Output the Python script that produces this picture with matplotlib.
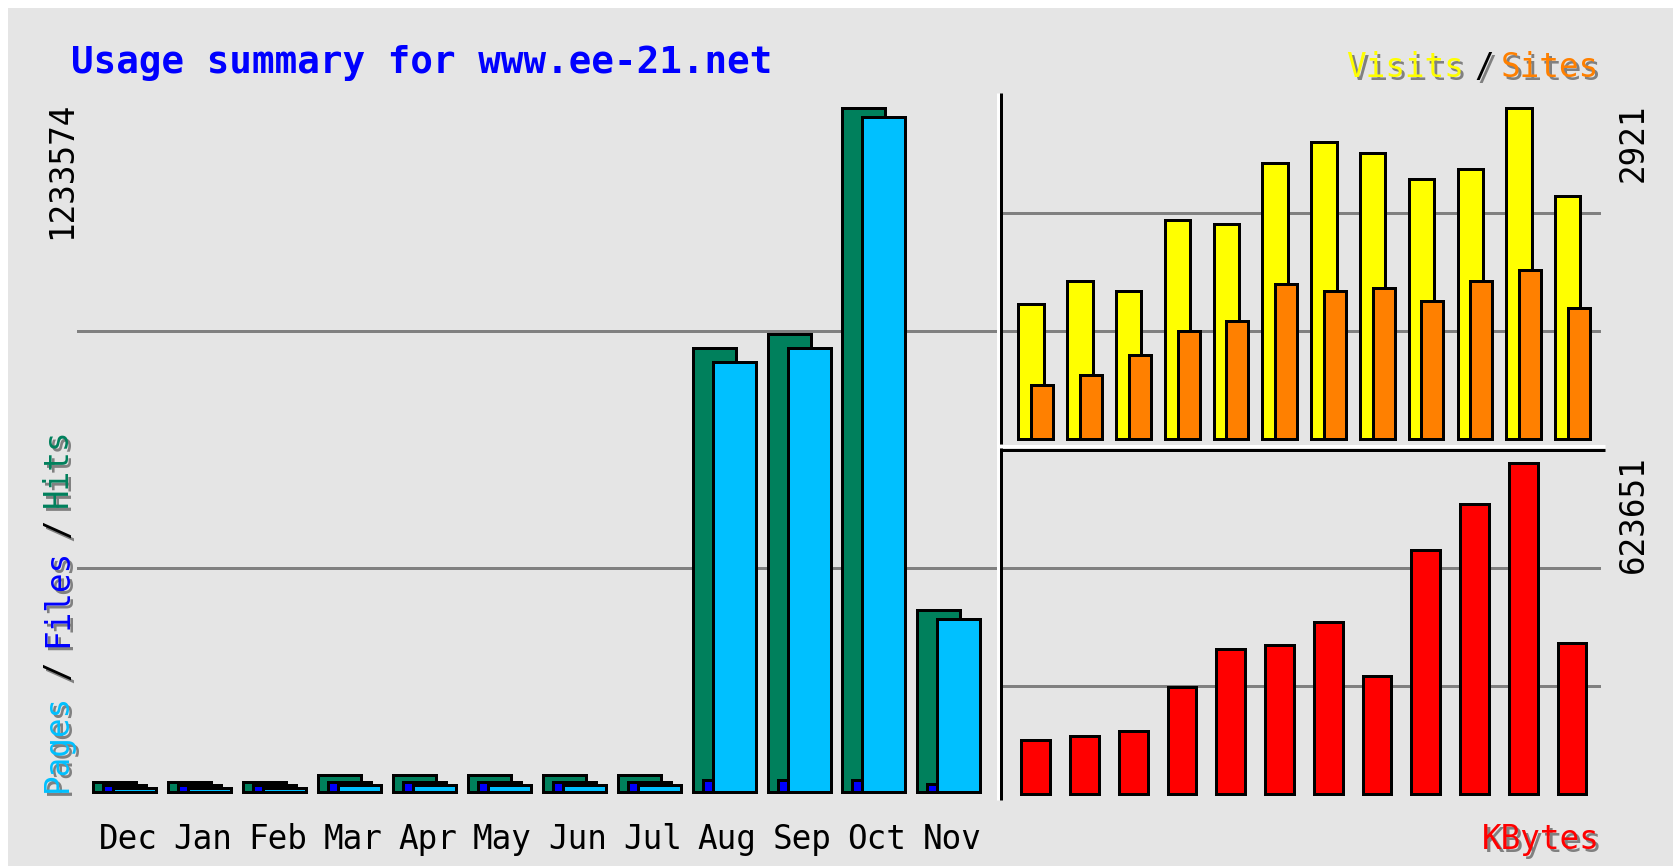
import matplotlib
matplotlib.use('Agg')
import matplotlib.pyplot as plt
from matplotlib.lines import Line2D
from matplotlib.patches import Rectangle
from matplotlib.transforms import offset_copy, blended_transform_factory

W, H = 1674, 866
DPI = 100

# ---------------- data ----------------
months = ['Dec', 'Jan', 'Feb', 'Mar', 'Apr', 'May', 'Jun', 'Jul', 'Aug', 'Sep', 'Oct', 'Nov']
hits = [17400, 17400, 17400, 30000, 30000, 30000, 30000, 30000, 800900, 824400, 1233574, 327700]
files = [12000, 12000, 12000, 17400, 17400, 17400, 17400, 17400, 20400, 20400, 20400, 13200]
pages = [6600, 6600, 6600, 12000, 12000, 12000, 12000, 12000, 775700, 800900, 1215600, 312200]
visits = [1193, 1396, 1308, 1934, 1900, 2437, 2616, 2522, 2292, 2383, 2921, 2145]
sites = [479, 568, 744, 955, 1044, 1364, 1308, 1336, 1220, 1396, 1493, 1158]
kbytes = [100970, 108490, 119390, 201180, 273940, 279960, 324150, 221860, 458210, 546570, 623651, 285220]

title = 'Usage summary for www.ee-21.net'
max_hits_label = '1233574'
max_visits_label = '2921'
max_kbytes_label = '623651'

# ---------------- styling ----------------
BG = '#E5E5E5'
GRID = '#808080'
C_HITS, C_FILES, C_PAGES = '#00805C', '#0000FF', '#00C0FF'
C_VISITS, C_SITES, C_KB = '#FFFF00', '#FF8000', '#FF0000'
PX = 72.0 / DPI          # points per pixel
LW = 3 * PX
MONO = 'DejaVu Sans Mono'
FS = 23.5
FS_TITLE = 27

fig = plt.figure(figsize=(W / DPI, H / DPI), dpi=DPI, facecolor=BG)


def fx(px):
    return px / W


def fy(py):
    return 1 - py / H


def add_ax(x0, y0, x1, y1):
    ax = fig.add_axes([fx(x0), fy(y1), (x1 - x0) / W, (y1 - y0) / H])
    ax.set_axis_off()
    ax.patch.set_alpha(0)
    return ax


# white border top / left
fig.add_artist(Rectangle((0, fy(8)), 1, 8 / H, transform=fig.transFigure, color='white', lw=0))
fig.add_artist(Rectangle((0, 0), 8 / W, 1, transform=fig.transFigure, color='white', lw=0))

idx = list(range(len(months)))

# ---------------- left panel: hits / files / pages ----------------
ax1 = add_ax(77, 80, 997, 800)
sp1, c1 = 74.9, 115.0
zero1, per1 = 791.8, 1802.7
ax1.set_xlim((77 - c1) / sp1, (997 - c1) / sp1)
ax1.set_ylim(-(800 - zero1) * per1, (zero1 - 80) * per1)
for g in [(zero1 - 331.3) * per1, (zero1 - 568.0) * per1]:
    ax1.axhline(g, color=GRID, lw=LW, zorder=1)
bw1 = 43 / sp1
ax1.bar(idx, hits, width=bw1, color=C_HITS, edgecolor='black', linewidth=LW, zorder=2, clip_on=False)
ax1.bar([i + 10 / sp1 for i in idx], files, width=bw1, color=C_FILES, edgecolor='black', linewidth=LW, zorder=3, clip_on=False)
ax1.bar([i + 20 / sp1 for i in idx], pages, width=bw1, color=C_PAGES, edgecolor='black', linewidth=LW, zorder=4, clip_on=False)

trm = blended_transform_factory(ax1.transData, fig.transFigure)
for i, m in enumerate(months):
    fig.text(i + 13 / sp1, fy(849), m, transform=trm, ha='center', va='baseline',
             family=MONO, fontsize=FS, color='black')

# ---------------- top right: visits / sites ----------------
ax2 = add_ax(1003, 93, 1601, 444)
sp2, c2 = 48.78, 1031.2
zero2, per2 = 439.2, 8.814
ax2.set_xlim((1003 - c2) / sp2, (1601 - c2) / sp2)
ax2.set_ylim(-(444 - zero2) * per2, (zero2 - 93) * per2)
for g in [(zero2 - 212.5) * per2, (zero2 - 330.8) * per2]:
    ax2.axhline(g, color=GRID, lw=LW, zorder=1)
ax2.bar(idx, visits, width=25.4 / sp2, color=C_VISITS, edgecolor='black', linewidth=LW, zorder=2, clip_on=False)
ax2.bar([i + 11 / sp2 for i in idx], sites, width=22 / sp2, color=C_SITES, edgecolor='black', linewidth=LW, zorder=3, clip_on=False)

# ---------------- bottom right: kbytes ----------------
ax3 = add_ax(1003, 451, 1601, 800)
sp3, c3 = 48.75, 1035.8
zero3, per3 = 794.2, 1880.2
ax3.set_xlim((1003 - c3) / sp3, (1601 - c3) / sp3)
ax3.set_ylim(-(800 - zero3) * per3, (zero3 - 451) * per3)
for g in [(zero3 - 567.7) * per3, (zero3 - 686.3) * per3]:
    ax3.axhline(g, color=GRID, lw=LW, zorder=1)
ax3.bar(idx, kbytes, width=28.8 / sp3, color=C_KB, edgecolor='black', linewidth=LW, zorder=2, clip_on=False)

# ---------------- embossed separator lines ----------------
def fline(x0, y0, x1, y1, color):
    fig.add_artist(Line2D([fx(x0), fx(x1)], [fy(y0), fy(y1)], transform=fig.transFigure,
                          color=color, lw=LW, solid_capstyle='butt'))

fline(998.3, 93, 998.3, 800, 'white')
fline(997, 446.2, 1605, 446.2, 'white')
fline(1001.5, 93, 1001.5, 444.5, 'black')
fline(1000, 449.5, 1605, 449.5, 'black')
fline(1001.5, 448, 1001.5, 800, 'black')

# ---------------- texts ----------------
fig.text(fx(71), fy(73), title, ha='left', va='baseline', family=MONO,
         fontsize=FS_TITLE, fontweight='bold', color='#0000FF')


def shadow_text(x, y, s, color, **kw):
    sh = offset_copy(fig.transFigure, fig=fig, x=2.2, y=-2.2, units='points')
    fig.text(x, y, s, transform=sh, color='#808080', family=MONO, fontsize=FS, **kw)
    fig.text(x, y, s, color=color, family=MONO, fontsize=FS, **kw)


# legend top right
shadow_text(fx(1346), fy(77), 'Visits', C_VISITS, ha='left', va='baseline')
shadow_text(fx(1484.5), fy(77), '/', 'black', ha='center', va='baseline')
shadow_text(fx(1501), fy(77), 'Sites', C_SITES, ha='left', va='baseline')
# KBytes
shadow_text(fx(1482), fy(849), 'KBytes', C_KB, ha='left', va='baseline')

# vertical legend on left
vk = dict(rotation=90, rotation_mode='anchor', va='baseline')
shadow_text(fx(67), fy(792), 'Pages', C_PAGES, ha='left', **vk)
shadow_text(fx(67), fy(670), '/', 'black', ha='center', **vk)
shadow_text(fx(67), fy(647), 'Files', C_FILES, ha='left', **vk)
shadow_text(fx(67), fy(528), '/', 'black', ha='center', **vk)
shadow_text(fx(67), fy(507), 'Hits', C_HITS, ha='left', **vk)

# max value labels
fig.text(fx(71), fy(102), max_hits_label, family=MONO, fontsize=FS, color='black',
         rotation=90, rotation_mode='anchor', ha='right', va='baseline')
fig.text(fx(1643), fy(103), max_visits_label, family=MONO, fontsize=FS, color='black',
         rotation=90, rotation_mode='anchor', ha='right', va='baseline')
fig.text(fx(1643), fy(455), max_kbytes_label, family=MONO, fontsize=FS, color='black',
         rotation=90, rotation_mode='anchor', ha='right', va='baseline')

fig.savefig('out.png', dpi=DPI, facecolor=BG)
